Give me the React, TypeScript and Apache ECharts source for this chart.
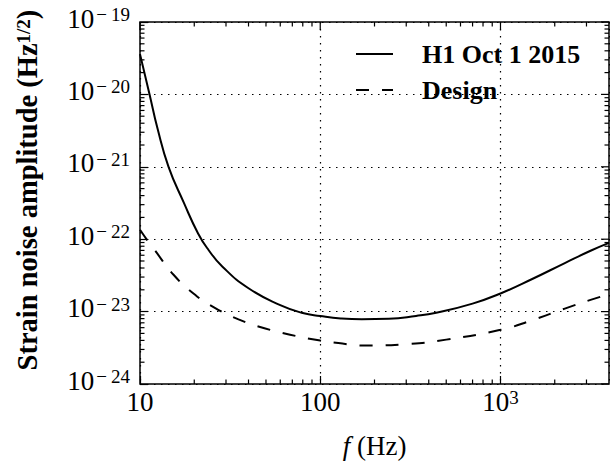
import React, { useEffect, useRef } from 'react';
import * as echarts from 'echarts';

// Frequencies (Hz) and strain amplitudes (Hz^-1/2)
const freqH1 = [10, 11.3, 12.5, 14.4, 17.5, 21, 24, 28.6, 40, 60, 80, 100, 130, 170, 240, 340, 440, 700, 1000, 1500, 2275, 3160, 4000];
const strainH1 = [3.6e-20, 1.0e-20, 3.4e-21, 1.0e-21, 3.2e-22, 1.2e-22, 7.1e-23, 4.2e-23, 2.1e-23, 1.23e-23, 9.55e-24, 8.7e-24, 8.04e-24, 7.82e-24, 7.94e-24, 8.7e-24, 9.66e-24, 1.29e-23, 1.78e-23, 2.82e-23, 4.68e-23, 6.92e-23, 8.9e-23];

const freqDesign = [10, 11.1, 12, 15.4, 19.8, 25.3, 35.2, 49, 68, 100, 126, 180, 300, 500, 1000, 1500, 2275, 3160, 4000];
const strainDesign = [1.35e-22, 9.3e-23, 7.2e-23, 3.2e-23, 1.78e-23, 1.17e-23, 7.8e-24, 5.9e-24, 4.8e-24, 3.98e-24, 3.67e-24, 3.4e-24, 3.55e-24, 4.1e-24, 5.6e-24, 7.6e-24, 1.1e-23, 1.45e-23, 1.74e-23];

const seriesNames = ['H1 Oct 1 2015', 'Design'];

// The y axis is plotted in units of 1e-24 (the library rounds tiny tick values to 0)
const Y_UNIT_EXP = -24;
const Y_UNIT = 1e-24;

// Axis extents and ticks
const xMin = 10;
const xMax = 4000;
const yMin = 1e-24;
const yMax = 1e-19;
const xMajorTicks = [10, 100, 1000];
const yMajorTicks = [1e-24, 1e-23, 1e-22, 1e-21, 1e-20, 1e-19];
const minorMultipliers = [2, 3, 4, 5, 6, 7, 8, 9];
const xMinorDecades = [10, 100, 1000];
const yMinorDecades = [1e-24, 1e-23, 1e-22, 1e-21, 1e-20];

const FONT = '"Liberation Serif", "DejaVu Serif", serif';

const toUnit = (v: number) => v / Y_UNIT;

const xMinorTicks: number[] = [];
xMinorDecades.forEach((d) => minorMultipliers.forEach((m) => { const v = d * m; if (v < xMax) xMinorTicks.push(v); }));
const yMinorTicks: number[] = [];
yMinorDecades.forEach((d) => minorMultipliers.forEach((m) => yMinorTicks.push(d * m)));

const MINUS = '\u2212';

export default function App() {
  const ref = useRef<HTMLDivElement>(null);
  useEffect(() => {
    if (!ref.current) return;
    const chart = echarts.init(ref.current, undefined, { renderer: 'svg' });
    const labelRich = {
      b: { fontFamily: FONT, fontSize: 27, color: '#000', lineHeight: 27, padding: [3, 0, 0, 0], verticalAlign: 'bottom' },
      m: { fontFamily: FONT, fontSize: 19, color: '#000', lineHeight: 19, padding: [0, 4, 0, 2], verticalAlign: 'top' },
      s: { fontFamily: FONT, fontSize: 19, color: '#000', lineHeight: 19, verticalAlign: 'top' },
    };
    const tickStyle = { stroke: '#000', lineWidth: 1.2 };
    chart.setOption({
      animation: false,
      backgroundColor: '#fff',
      grid: { left: 125, right: 1, top: 22, bottom: 80, show: true, borderColor: '#000', borderWidth: 1.5, backgroundColor: 'transparent' },
      legend: {
        orient: 'vertical',
        left: 350,
        top: 36,
        itemWidth: 37,
        itemHeight: 14,
        itemGap: 10,
        data: seriesNames,
        itemStyle: { opacity: 0 },
        textStyle: { fontFamily: FONT, fontSize: 26, fontWeight: 'bold', color: '#000', padding: [0, 0, 0, 24] },
      },
      xAxis: {
        type: 'log',
        logBase: 10,
        min: xMin,
        max: xMax,
        name: '{i|f}{r| (Hz)}',
        nameLocation: 'middle',
        nameGap: 48,
        nameTextStyle: {
          rich: {
            i: { fontFamily: FONT, fontSize: 27, fontStyle: 'italic', color: '#000' },
            r: { fontFamily: FONT, fontSize: 27, color: '#000' },
          },
        },
        axisLine: { show: false },
        axisTick: { show: true, inside: true, length: 8, lineStyle: { color: '#000', width: 1.2 } },
        splitLine: { show: true, lineStyle: { color: '#000', width: 1.2, type: [1.5, 5.5] } },
        axisLabel: {
          margin: 4,
          showMaxLabel: false,
          formatter: (v: number) => {
            const e = Math.round(Math.log10(v));
            if (e <= 2) return `{b|${Math.round(v)}}`;
            return `{b|10}{s|${e}}`;
          },
          rich: labelRich,
        },
      },
      yAxis: {
        type: 'log',
        logBase: 10,
        min: toUnit(yMin),
        max: toUnit(yMax),
        name: '{b|Strain noise amplitude (Hz}{s|1/2}{b|)}',
        nameLocation: 'middle',
        nameGap: 98,
        nameRotate: 90,
        nameTextStyle: {
          padding: [0, 0, 0, 26],
          rich: {
            b: { fontFamily: FONT, fontSize: 28.5, fontWeight: 'bold', color: '#000', lineHeight: 28, padding: [5, 0, 0, 0], verticalAlign: 'bottom' },
            s: { fontFamily: FONT, fontSize: 19, fontWeight: 'bold', color: '#000', lineHeight: 19, verticalAlign: 'top' },
          },
        },
        axisLine: { show: false },
        axisTick: { show: true, inside: true, length: 8, lineStyle: { color: '#000', width: 1.2 } },
        splitLine: { show: true, lineStyle: { color: '#000', width: 1.2, type: [1.5, 5.5] } },
        axisLabel: {
          margin: 10,
          padding: [0, 0, 7, 0],
          formatter: (v: number) => {
            const e = Math.round(Math.log10(v)) + Y_UNIT_EXP;
            return `{b|10}{m|${e < 0 ? MINUS : ''}}{s|${Math.abs(e)}}`;
          },
          rich: labelRich,
        },
      },
      series: [
        {
          name: seriesNames[0],
          type: 'line',
          data: freqH1.map((f, i) => [f, toUnit(strainH1[i])]),
          symbol: 'none',
          showSymbol: false,
          smooth: 0.5,
          itemStyle: { color: '#000' },
          lineStyle: { color: '#000', width: 2 },
          z: 5,
        },
        {
          name: seriesNames[1],
          type: 'line',
          data: freqDesign.map((f, i) => [f, toUnit(strainDesign[i])]),
          symbol: 'none',
          showSymbol: false,
          smooth: 0.5,
          itemStyle: { color: '#000' },
          lineStyle: { color: '#000', width: 2, type: [13, 13] },
          z: 5,
        },
        {
          type: 'custom',
          silent: true,
          clip: false,
          data: [[100, 100]],
          z: 6,
          renderItem: (params: any, api: any) => {
            const cs = params.coordSys;
            const left = cs.x;
            const top = cs.y;
            const right = cs.x + cs.width;
            const bottom = cs.y + cs.height;
            const children: any[] = [];
            const add = (x1: number, y1: number, x2: number, y2: number) =>
              children.push({ type: 'line', shape: { x1, y1, x2, y2 }, style: tickStyle });
            xMajorTicks.forEach((v) => {
              const px = api.coord([v, toUnit(yMin)])[0];
              add(px, top, px, top + 8);
            });
            xMinorTicks.forEach((v) => {
              const px = api.coord([v, toUnit(yMin)])[0];
              add(px, top, px, top + 4.5);
              add(px, bottom, px, bottom - 4.5);
            });
            yMajorTicks.forEach((v) => {
              const py = api.coord([xMin, toUnit(v)])[1];
              add(right, py, right - 8, py);
            });
            yMinorTicks.forEach((v) => {
              const py = api.coord([xMin, toUnit(v)])[1];
              add(left, py, left + 4.5, py);
              add(right, py, right - 4.5, py);
            });
            return { type: 'group', children };
          },
        },
      ],
    });
    return () => chart.dispose();
  }, []);
  return <div ref={ref} style={{ position: 'fixed', left: 0, top: 0, width: 610, height: 464 }} />;
}
